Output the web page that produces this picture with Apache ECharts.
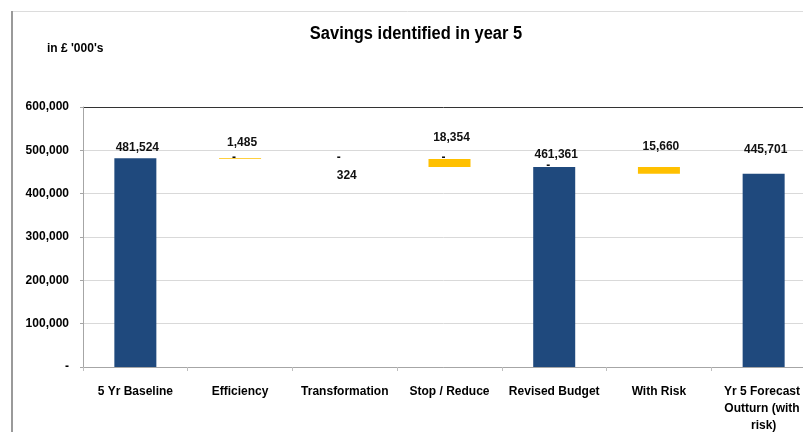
<!DOCTYPE html>
<html>
<head>
<meta charset="utf-8">
<script src="https://cdn.jsdelivr.net/npm/echarts@6/dist/echarts.min.js"></script>
<style>
  html, body { margin: 0; padding: 0; background: #ffffff; }
  #chart { width: 803px; height: 432px; }
</style>
</head>
<body>
<div id="chart"></div>
<script>
// ---- data ----
const categories = ['5 Yr Baseline', 'Efficiency', 'Transformation', 'Stop / Reduce', 'Revised Budget', 'With Risk', 'Yr 5 Forecast Outturn (with risk)'];
const totals    = [481524, null, null, null, 461361, null, 445701];
const decreases = [null, 1485, 324, 18354, null, 15660, null];
const zeroMarks = [null, 0, 0, 0, 0, null, null];
const yTicks = [0, 100000, 200000, 300000, 400000, 500000, 600000];

// ---- derived invisible base for the waterfall ----
const base = [];
let running = 0;
for (let i = 0; i < categories.length; i++) {
  if (totals[i] != null) { running = totals[i]; base.push(null); }
  else { running -= decreases[i]; base.push(running); }
}

// ---- styling (label placement per bar) ----
const totalLabelDist = [5, 0, 0, 0, 6, 0, 18];
const decLabelPos = ['top', 'top', 'bottom', 'top', 'top', 'top', 'top'];
const decLabelDist = [0, 10, 11, 15, 0, 14, 0];

const fmt = v => v === 0 ? '-' : v.toLocaleString('en-US');
const FONT = '"Liberation Sans", Arial, sans-serif';
const labelBase = { show: true, color: '#111', fontFamily: FONT, fontWeight: 'bold', fontSize: 12 };

const chart = echarts.init(document.getElementById('chart'), null, { renderer: 'canvas' });
chart.setOption({
  animation: false,
  backgroundColor: '#ffffff',
  textStyle: { fontFamily: FONT },
  graphic: [
    { type: 'line', shape: { x1: 12, y1: 11.5, x2: 803, y2: 11.5 }, style: { stroke: '#dcdcdc', lineWidth: 1 }, silent: true },
    { type: 'line', shape: { x1: 12, y1: 11, x2: 12, y2: 432 }, style: { stroke: '#9a9a9a', lineWidth: 2 }, silent: true },
    { type: 'text', x: 416, y: 34, scaleX: 0.915, originX: 0, originY: 0,
      style: { text: 'Savings identified in year 5', fontFamily: FONT, fontWeight: 'bold', fontSize: 18, fill: '#000', align: 'center', verticalAlign: 'middle' }, silent: true },
    { type: 'text', x: 47, y: 49,
      style: { text: "in £ '000's", fontFamily: FONT, fontWeight: 'bold', fontSize: 12, fill: '#000', align: 'left', verticalAlign: 'middle' }, silent: true }
  ],
  grid: { left: 83, top: 107, width: 733, height: 260, containLabel: false, outerBoundsMode: 'none' },
  xAxis: {
    type: 'category',
    data: categories,
    boundaryGap: true,
    axisLine: { show: true, lineStyle: { color: '#a6a6a6', width: 1 } },
    axisTick: { show: true, alignWithLabel: false, length: 4, lineStyle: { color: '#bfbfbf' } },
    axisLabel: {
      interval: 0, margin: 16, color: '#000', fontFamily: FONT, fontWeight: 'bold', fontSize: 12,
      width: 100, overflow: 'break', lineHeight: 17
    }
  },
  yAxis: {
    type: 'value',
    min: 0, max: 600000, interval: 100000,
    axisLine: { show: true, lineStyle: { color: '#a6a6a6', width: 1 } },
    axisTick: { show: true, length: 3, lineStyle: { color: '#a6a6a6' } },
    axisLabel: { margin: 14, color: '#000', fontFamily: FONT, fontWeight: 'bold', fontSize: 12, formatter: fmt },
    splitLine: { show: true, lineStyle: { color: yTicks.map((t, i) => i === yTicks.length - 1 ? '#333333' : '#d9d9d9'), width: 1 } }
  },
  series: [
    {
      name: 'base', type: 'bar', stack: 'wf', barWidth: 42, silent: true,
      itemStyle: { color: 'transparent' },
      data: base
    },
    {
      name: 'total', type: 'bar', stack: 'wf', barWidth: 42,
      itemStyle: { color: '#1F497D' },
      data: totals.map((v, i) => v == null ? null : {
        value: v,
        label: Object.assign({}, labelBase, { position: 'top', distance: totalLabelDist[i], offset: [2, 0], formatter: p => fmt(p.value) })
      })
    },
    {
      name: 'decrease', type: 'bar', stack: 'wf', barWidth: 42,
      itemStyle: { color: '#FFC000' },
      data: decreases.map((v, i) => v == null ? null : {
        value: v,
        label: Object.assign({}, labelBase, { position: decLabelPos[i], distance: decLabelDist[i], offset: [2, 0], formatter: p => fmt(p.value) })
      })
    },
    {
      name: 'zero', type: 'bar', stack: 'wf', barWidth: 42,
      itemStyle: { color: 'transparent' },
      label: Object.assign({}, labelBase, { position: 'inside', offset: [-6, -1], formatter: '-' }),
      data: zeroMarks
    }
  ]
});
</script>
</body>
</html>
